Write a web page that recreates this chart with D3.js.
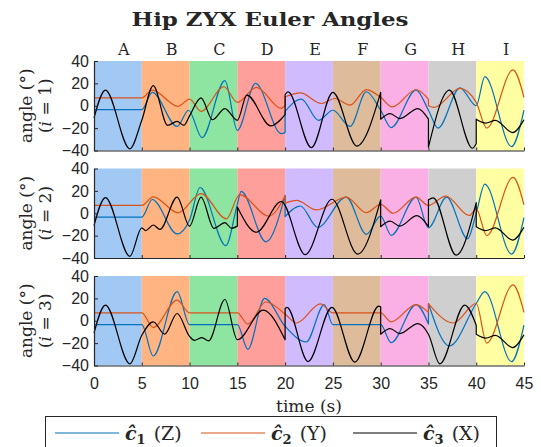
<!DOCTYPE html>
<html>
<head>
<meta charset="utf-8">
<script src="https://cdn.jsdelivr.net/npm/d3@7"></script>
<style>
  body { margin: 0; background: #fff; }
  text { fill: #262626; }
</style>
</head>
<body>
<svg id="fig" width="541" height="447"></svg>
<script>
// segments of the trial, 5 s each
var segNames = ['A', 'B', 'C', 'D', 'E', 'F', 'G', 'H', 'I'];
var segStarts = [0, 5, 10, 15, 20, 25, 30, 35, 40];
var segLength = 5;

var xTicks = [0, 5, 10, 15, 20, 25, 30, 35, 40, 45];
var yTicks = [-40, -20, 0, 20, 40];

var seriesLabels = ['1', '2', '3'];
var seriesAxes = ['Z', 'Y', 'X'];

// [time (s), angle (deg)] read at extrema / segment ends; a repeated time = jump
var z_i1 = [[0,-3.5],[5,-3.5],[6.1,12],[8.7,-18.5],[9.9,-4],[11.3,-28.5],[13.7,22.5],[15,-22],[16.9,20],[19.6,-25],[20,-24],
  [20,-5],[21.7,6],[23.5,-13],[25,-4],[26.8,-18.5],[28.5,12.5],[30,-4],[31.1,-19.5],[33.7,14],[35,-4],[36,-20],[38.3,16],[40,0],
  [40.9,26],[43.7,-36.5],[45,-4]];
var y_i1 = [[0,7],[5,7],[6.1,14],[8.8,-0.5],[10,6],[11.2,-5],[13.6,17],[15,3],[17,16.4],[19.6,-2.4],[20,0],
  [20,8],[21.6,11.5],[23.8,2],[25.2,6.5],[26.8,0.5],[28.5,14.5],[30,7.5],[31.2,-1],[33.7,14.3],[35,6],
  [35,0],[35.6,-1.5],[38.3,15.5],[40,3],[41.1,-20],[43.85,32],[45,7.5]];
var x_i1 = [[0,-11],[1.2,14],[3.75,-38.5],[5,-13],[6.2,18],[7.7,-17.5],[8.7,-14],[9.4,-17.5],[10,-9],[11.2,7],[12.4,-12.5],
  [13.7,-2.5],[15,-13],[16,9.5],[18.5,-18],[20,-8],[20,10],[20.3,12.5],[22.75,-37.5],[25,12],[27.5,-36],[30,12],
  [30,-12],[31,-7],[32,-11.5],[33.9,-2.5],[35,-12],[35,-37],[37.2,14],[39.6,-38],[40,-34],
  [40,-12],[41,-15.5],[42,-13],[43.8,-24],[45,-12.5]];

var z_i2 = [[0,-3.5],[5,-3.5],[6.1,12.3],[8.7,-18.5],[10,-6],[11.1,23],[13.8,-29],[15,8],[15.4,19.5],[18,-25.5],[20,16],
  [20,-3],[21.6,6.5],[23.4,-12.5],[26.4,14.5],[28.5,-18.8],[30,-2.5],[31.1,-19.7],[33.7,14.4],[35,-13],[36.9,14.4],
  [39.1,-22.7],[40,0],[40.9,26],[43.7,-36.5],[45,-4]];
var y_i2 = [[0,7],[5,7],[6.2,14.7],[8.8,0.4],[11.2,17.6],[13.85,-5],[15.25,16.7],[18.3,-2.5],[20,15.5],
  [20,9],[21.2,11.5],[23.3,3],[26.4,14.5],[28.5,0.5],[30,8],[31.3,0],[33.7,14.5],[35,7],[36.8,15.3],[39.3,-2],[40,4],
  [41.1,-20],[43.85,32],[45,7.5]];
var x_i2 = [[0,-11],[1.2,14],[3.75,-38.5],[5,-13],[5.4,-15.5],[6.2,-10.5],[6.9,-14.5],[8.7,14.5],[10,-11.5],[11.2,14.4],
  [12.55,-13.5],[13.7,-8.4],[14.4,-13.5],[15,-11.5],[15,5.5],[17,-17],[19.6,10.5],[22.1,-37],[24.9,12.5],[27.6,-36.5],[30,12],
  [30,-12],[31,-7],[32,-11.5],[33.8,-2.2],[35,-12],[35,12],[35.5,13.8],[37.9,-37.5],[40,9.5],
  [40,-12],[41,-15.5],[42,-13],[43.8,-24],[45,-12.5]];

var z_i3 = [[0,-3.5],[5,-3.5],[6.2,-31.5],[8.7,26],[10,-3.5],[15,-3.5],[16.1,-25.5],[17.85,20],[20,-5],[22.2,-19],[24.1,14.5],
  [25,-3.5],[30,-3.5],[31.1,-19.6],[33.7,14.5],[35,-3],[35,15.4],[37.2,-22.5],[40,15.4],[40.9,26],[43.7,-36.5],[45,-4]];
var y_i3 = [[0,7],[5,7],[6.2,-6],[8.7,18.5],[10,7],[15,7],[16.1,-3],[18,17],[20,6],[21.2,-2],[23.7,15],[25,7],[30,7],
  [31.1,-1],[33.7,14.5],[35,7.5],[35,15.4],[37.6,-2],[40,15.4],[41.1,-20],[43.85,32],[45,7.5]];
var x_i3 = [[0,-11],[1.2,14],[3.75,-38.5],[5,-13],[6.2,-1],[7.4,-12],[8.7,6.5],[10,-14],[10.5,-17.5],[11.3,-15],[12,-18],
  [13.7,19],[15,-17],[17.7,9.5],[20,-17],[20,11],[20.2,12],[22.4,-36.5],[24.9,12],[27.3,-37],[29.8,13],[30,12.5],
  [30,-12],[31,-7],[32,-11.5],[33.9,-2.5],[35,-12],[36.2,-38.5],[38.8,14],[40,-4],
  [40,-12],[41,-15.5],[42,-13],[43.8,-24],[45,-12.5]];

var panels = [
  {i: 1, series: [z_i1, y_i1, x_i1]},
  {i: 2, series: [z_i2, y_i2, x_i2]},
  {i: 3, series: [z_i3, y_i3, x_i3]}
];

var bandColors = ['#a1c9f4', '#ffb482', '#8de5a1', '#ff9f9b', '#d0bbff', '#debb9b', '#fab0e4', '#cfcfcf', '#fffea3'];
var lineColors = ['#0072BD', '#D95319', '#000000'];

var panelTop = [61, 168.5, 276];
var panelH = 89.5;
var serif = 'DejaVu Serif';
var sans = 'Liberation Sans';

var svg = d3.select('#fig');

var xScale = d3.scaleLinear().domain([0, 45]).range([94, 524]);
var yScale = d3.scaleLinear().domain([-40, 40]).range([panelH, 0]);

var lineGen = d3.line()
    .x(function(d) { return xScale(d[0]); })
    .y(function(d) { return yScale(d[1]); })
    .curve(d3.curveMonotoneX);

// split where time repeats and join the pieces with a straight (vertical) step
function tracePath(points) {
    var pieces = [], cur = [points[0]];
    for (var k = 1; k < points.length; k++) {
        if (points[k][0] === points[k - 1][0]) {
            pieces.push(cur);
            cur = [];
        }
        cur.push(points[k]);
    }
    pieces.push(cur);
    return pieces.map(function(p, j) {
        var s = lineGen(p);
        return j ? 'L' + s.slice(1) : s;
    }).join('');
}

// title
var title = svg.append('text')
    .attr('x', 270)
    .attr('y', 26)
    .attr('text-anchor', 'middle')
    .style('font-family', serif)
    .style('font-weight', 'bold')
    .style('font-size', '19px')
    .text('Hip ZYX Euler Angles');
var tw = title.node().getComputedTextLength();
if (Math.abs(tw - 277) > 3) {
    title.attr('textLength', 277).attr('lengthAdjust', 'spacingAndGlyphs');
}

// segment letters
svg.selectAll('text.seg')
    .data(segNames)
    .enter()
    .append('text')
    .attr('class', 'seg')
    .attr('x', function(d, i) { return xScale(segStarts[i] + segLength / 2) + 6; })
    .attr('y', 55)
    .attr('text-anchor', 'middle')
    .style('font-family', serif)
    .style('font-size', '16px')
    .text(function(d) { return d; });

panels.forEach(function(panel, idx) {
    var g = svg.append('g').attr('transform', 'translate(0,' + panelTop[idx] + ')');

    g.selectAll('rect')
        .data(segStarts)
        .enter()
        .append('rect')
        .attr('x', function(d) { return xScale(d); })
        .attr('width', function(d) { return xScale(d + segLength) - xScale(d); })
        .attr('y', 0)
        .attr('height', panelH)
        .attr('fill', function(d, i) { return bandColors[i]; });

    panel.series.forEach(function(pts, s) {
        g.append('path')
            .attr('d', tracePath(pts))
            .attr('fill', 'none')
            .attr('stroke', lineColors[s])
            .attr('stroke-width', 1.2)
            .attr('stroke-linejoin', 'round');
    });

    var yAxis = d3.axisLeft(yScale)
        .tickValues(yTicks)
        .tickSizeInner(-4)
        .tickSizeOuter(0)
        .tickPadding(5);
    var ya = g.append('g').attr('transform', 'translate(' + xScale(0) + ',0)').call(yAxis);

    var xAxis = d3.axisBottom(xScale)
        .tickValues(xTicks)
        .tickSizeInner(-3)
        .tickSizeOuter(0)
        .tickPadding(12);
    if (idx < panels.length - 1) xAxis.tickFormat('');
    var xa = g.append('g').attr('transform', 'translate(0,' + panelH + ')').call(xAxis);

    [ya, xa].forEach(function(a) {
        a.select('.domain').attr('stroke', '#262626').attr('stroke-width', 1.2);
        a.selectAll('.tick line').attr('stroke', '#262626');
        a.selectAll('.tick text')
            .style('font-family', sans)
            .style('font-size', '16px')
            .attr('fill', '#262626');
    });

    g.append('text')
        .attr('transform', 'translate(32,' + (panelH / 2) + ') rotate(-90)')
        .attr('text-anchor', 'middle')
        .style('font-family', serif)
        .style('font-size', '17px')
        .text('angle (°)');

    var lab = g.append('text')
        .attr('transform', 'translate(51,' + (panelH / 2) + ') rotate(-90)')
        .attr('text-anchor', 'middle')
        .style('font-family', serif)
        .style('font-size', '17px');
    lab.append('tspan').text('(');
    lab.append('tspan').style('font-style', 'italic').text('i');
    lab.append('tspan').text(' = ' + panel.i + ')');
});

// x label
svg.append('text')
    .attr('x', xScale(22.5))
    .attr('y', 412)
    .attr('text-anchor', 'middle')
    .style('font-family', serif)
    .style('font-size', '17px')
    .text('time (s)');

// legend
var legend = svg.append('g');
legend.append('rect')
    .attr('x', 45.5)
    .attr('y', 416.5)
    .attr('width', 451)
    .attr('height', 40)
    .attr('fill', '#fff')
    .attr('stroke', '#262626')
    .attr('stroke-width', 1);

var legendX = [55, 201, 353];
seriesLabels.forEach(function(lbl, s) {
    var lx = legendX[s];
    legend.append('line')
        .attr('x1', lx).attr('x2', lx + 64)
        .attr('y1', 433).attr('y2', 433)
        .attr('stroke', lineColors[s])
        .attr('stroke-width', 1.2);
    var t = legend.append('text')
        .attr('x', lx + 70)
        .attr('y', 440)
        .style('font-family', serif)
        .style('font-size', '19px');
    t.append('tspan').style('font-weight', 'bold').style('font-style', 'italic').text('ĉ');
    t.append('tspan').style('font-weight', 'bold').style('font-size', '13px').attr('dy', 4).text(lbl);
    t.append('tspan').attr('dy', -4).attr('dx', 8).text('(' + seriesAxes[s] + ')');
});
</script>
</body>
</html>
